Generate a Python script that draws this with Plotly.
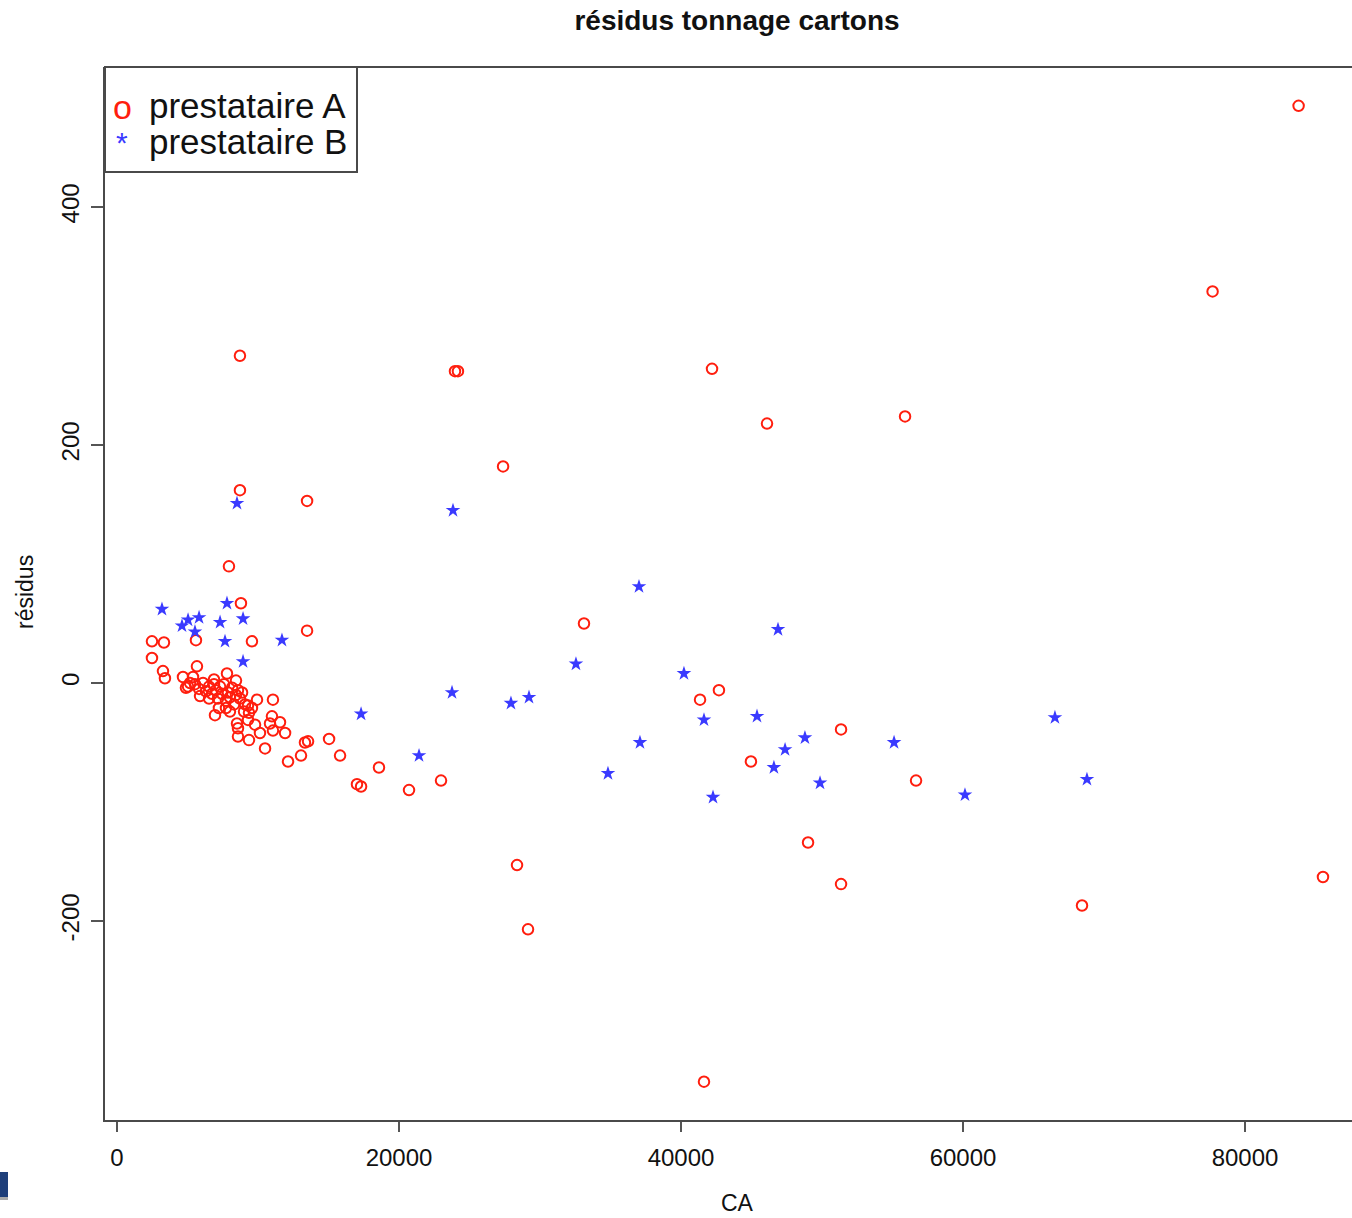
import plotly.graph_objects as go

# Residuals of the carton tonnage model against turnover (CA), per provider
ca_a = [
    83800, 77700, 8720, 23970, 24180, 42200, 46100, 55890, 27380, 8720,
    13480, 7940, 8790, 13480, 33120, 9570, 2480, 3330, 5600, 2480,
    3260, 3400, 41350, 42690, 51350, 44960, 56670, 49010, 51350, 68440,
    85530, 28370, 29150, 41630, 22980, 20710, 18580, 17020, 17310, 15820,
    15040, 13050, 13330, 13550, 12130,
    5670, 4680, 5390, 5040, 7800, 11060, 9930, 6950, 8010, 9290,
    9360, 9290, 8510, 8580, 9790, 10990, 10850, 11560, 11060, 11920,
    8580, 9360, 10140, 10500,
    4890, 5180, 5530, 5820, 6100, 6310, 6530, 6740, 6880, 7020,
    7160, 7310, 7450, 7590, 7730, 7870, 8010, 8160, 8300, 8440,
    8580, 8720, 8870, 9080, 6530, 7230, 5890, 7730, 6880, 8440,
    9570, 9010,
]
res_a = [
    485, 329, 275, 262, 262, 264, 218, 224, 182, 162,
    153, 98, 67, 44, 50, 35, 35, 34, 36, 21,
    10, 4, -14, -6, -39, -66, -82, -134, -169, -187,
    -163, -153, -207, -335, -82, -90, -71, -85, -87, -61,
    -47, -61, -50, -49, -66,
    14, 5, 5, -3, 8, -14, -14, -27, -24, -19,
    -25, -31, -34, -38, -35, -28, -34, -33, -40, -42,
    -45, -48, -42, -55,
    -4, 0, -1, -5, 0, -7, -3, -9, -1, -6,
    -13, -3, -9, -1, -15, -8, -12, -4, -18, -10,
    -6, -13, -8, -18, -13, -21, -11, -21, 3, 2,
    -21, -24,
]

ca_b = [
    8510, 23830, 37020, 46880, 32550, 40210, 23760, 29220, 27940, 17310,
    41630, 45390, 66520, 37090, 48790, 55110, 47380, 21420, 46590, 34820,
    68790, 49860, 42270, 60140,
    3190, 7800, 4610, 5040, 5820, 5530, 7310, 8940, 7660, 11700, 8940,
]
res_b = [
    151, 145, 81, 45, 16, 8, -8, -12, -17, -26,
    -31, -28, -29, -50, -46, -50, -56, -61, -71, -76,
    -81, -84, -96, -94,
    62, 67, 48, 53, 55, 43, 51, 54, 35, 36, 18,
]

names = ["prestataire A", "prestataire B"]
colors = ["#FF1E0E", "#3A3AFF"]

x_ticks = [0, 20000, 40000, 60000, 80000]
y_ticks = [-200, 0, 200, 400]

W, H = 1352, 1218
L, T, B = 105, 67, 98
plot_w, plot_h = W - L, H - T - B


def px(xp):
    return (xp - L) / plot_w


def py(yp):
    return (H - B - yp) / plot_h


fig = go.Figure()
fig.add_trace(go.Scatter(
    x=ca_a, y=res_a, mode="markers", name=names[0], showlegend=False,
    marker=dict(symbol="circle-open", size=10.5, color=colors[0],
                line=dict(width=2, color=colors[0])),
))
fig.add_trace(go.Scatter(
    x=ca_b, y=res_b, mode="markers", name=names[1], showlegend=False,
    marker=dict(symbol="star", size=11, color=colors[1], line=dict(width=0)),
))

axis_font = dict(family="Liberation Sans, Arial, sans-serif", size=24, color="#111")

fig.update_xaxes(
    range=[-851, 87588], tickvals=x_ticks, ticktext=[str(v) for v in x_ticks],
    showgrid=False, zeroline=False, showline=True, linecolor="#4a4a4a", linewidth=2,
    ticks="outside", ticklen=10, tickwidth=1.5, tickcolor="#555",
    tickfont=axis_font, ticklabelstandoff=5,
)
fig.update_yaxes(
    range=[-367.2, 517.6], tickvals=y_ticks, ticktext=[str(v) for v in y_ticks],
    showgrid=False, zeroline=False, showline=True, linecolor="#4a4a4a", linewidth=2,
    ticks="outside", ticklen=12, tickwidth=1.5, tickcolor="#555",
    tickfont=axis_font, tickangle=-90, ticklabelstandoff=2,
)

shapes = [
    # top edge of the plotting box
    dict(type="line", xref="paper", yref="paper", x0=0, x1=1.05, y0=1, y1=1,
         line=dict(color="#4a4a4a", width=2)),
    # legend frame
    dict(type="rect", xref="paper", yref="paper", x0=0, x1=px(357),
         y0=py(172), y1=1, line=dict(color="#4a4a4a", width=2),
         fillcolor="white", layer="above"),
    # small navy tab at the bottom-left edge
    dict(type="rect", xref="paper", yref="paper", x0=px(0), x1=px(8),
         y0=py(1197), y1=py(1172), line=dict(width=0), fillcolor="#1F3F7A"),
    dict(type="rect", xref="paper", yref="paper", x0=px(0), x1=px(8),
         y0=py(1200), y1=py(1197), line=dict(width=0), fillcolor="#AAAAAA"),
]

legend_font = dict(family="Liberation Sans, Arial, sans-serif", size=35, color="#111")
annotations = [
    dict(text="o", x=px(122), y=py(107), xref="paper", yref="paper",
         xanchor="center", yanchor="middle", showarrow=False,
         font=dict(family="Liberation Sans, Arial, sans-serif", size=34, color=colors[0])),
    dict(text="*", x=px(122), y=py(143), xref="paper", yref="paper",
         xanchor="center", yanchor="middle", showarrow=False,
         font=dict(family="Liberation Sans, Arial, sans-serif", size=30, color=colors[1])),
    dict(text=names[0], x=px(147), y=py(105), xref="paper", yref="paper",
         xanchor="left", yanchor="middle", showarrow=False, font=legend_font),
    dict(text=names[1], x=px(147), y=py(141), xref="paper", yref="paper",
         xanchor="left", yanchor="middle", showarrow=False, font=legend_font),
    dict(text="CA", x=px(737), y=py(1203), xref="paper", yref="paper",
         xanchor="center", yanchor="middle", showarrow=False,
         font=dict(family="Liberation Sans, Arial, sans-serif", size=23, color="#111")),
    dict(text="résidus", x=px(25), y=py(592), xref="paper", yref="paper",
         xanchor="center", yanchor="middle", showarrow=False, textangle=-90,
         font=dict(family="Liberation Sans, Arial, sans-serif", size=23, color="#111")),
]

fig.update_layout(
    width=W, height=H,
    margin=dict(l=L, r=0, t=T, b=B),
    paper_bgcolor="white", plot_bgcolor="white",
    title=dict(text="<b>résidus tonnage cartons</b>", x=737 / W, xanchor="center",
               y=1 - 20 / H, yanchor="middle", xref="container", yref="container",
               font=dict(family="Liberation Sans, Arial, sans-serif", size=28, color="#111")),
    shapes=shapes,
    annotations=annotations,
)

fig.write_html("out.html")
